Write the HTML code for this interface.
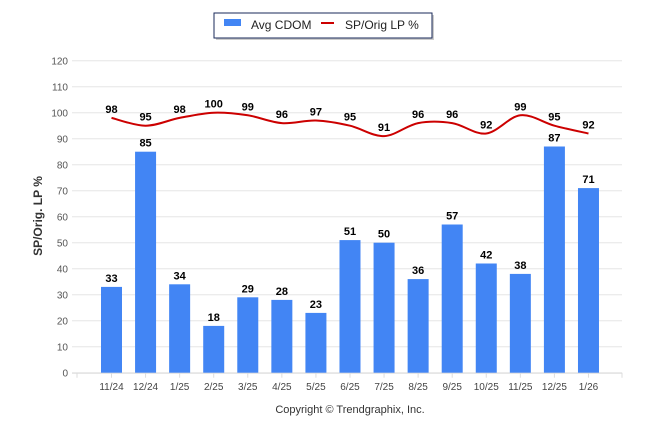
<!DOCTYPE html>
<html><head><meta charset="utf-8"><style>
body{margin:0;background:#fff;font-family:"Liberation Sans",sans-serif}
svg{display:block}
</style></head><body>
<svg id="c" width="646" height="434">
<g id="grid"></g><g id="bars"></g><g id="line"></g><g id="labels"></g>
<g>
<rect x="216" y="15" width="218" height="25" fill="#999" opacity="0.5"/>
<rect x="214" y="13" width="218" height="25" fill="#fff" stroke="#1a2a5a" stroke-width="1"/>
<rect x="224" y="19" width="17" height="7" fill="#4285f4"/>
<text x="251" y="29" font-size="12" fill="#222">Avg CDOM</text>
<line x1="321" y1="23" x2="334" y2="23" stroke="#cc0000" stroke-width="2"/>
<text x="345" y="29" font-size="12" fill="#222">SP/Orig LP %</text>
</g>
<text transform="translate(42,216) rotate(-90)" text-anchor="middle" font-size="12" font-weight="bold" fill="#333">SP/Orig. LP %</text>
<text x="350" y="413" text-anchor="middle" font-size="11" fill="#333">Copyright © Trendgraphix, Inc.</text>
</svg>
<script>
const categories=["11/24","12/24","1/25","2/25","3/25","4/25","5/25","6/25","7/25","8/25","9/25","10/25","11/25","12/25","1/26"];
const cdom=[33,85,34,18,29,28,23,51,50,36,57,42,38,87,71];
const sp=[98,95,98,100,99,96,97,95,91,96,96,92,99,95,92];
const yTicks=[0,10,20,30,40,50,60,70,80,90,100,110,120];
const NS="http://www.w3.org/2000/svg";
const y=v=>372.7-v*2.6;
const x=i=>111.5+i*34.07;
function mk(p,t,a){const e=document.createElementNS(NS,t);for(const k in a)e.setAttribute(k,a[k]);document.getElementById(p).appendChild(e);return e;}
yTicks.forEach(v=>{
 const l=mk('grid','line',{x1:72,x2:622,y1:y(v),y2:y(v),stroke:'#e6e6e6'});
 
 
 const t=mk('grid','text',{x:68,y:y(v)+4,'text-anchor':'end','font-size':10,fill:'#555'});t.textContent=v;
 
 
});
mk('grid','line',{x1:72,x2:622,y1:y(0)+0.5,y2:y(0)+0.5,stroke:'#ddd'});
categories.forEach((c,i)=>{
 mk('grid','line',{x1:x(i),x2:x(i),y1:y(0),y2:y(0)+5,stroke:'#ddd'});
 const t=mk('grid','text',{x:x(i),y:390,'text-anchor':'middle','font-size':10,fill:'#444'});t.textContent=c;
 
 
 const b=mk('bars','rect',{x:x(i)-10.5,y:y(cdom[i]),width:21,height:y(0)-y(cdom[i]),fill:'#4285f4'});
 
 
 const bl=mk('labels','text',{x:x(i),y:y(cdom[i])-5,'text-anchor':'middle','font-size':11,'font-weight':'bold',fill:'#000'});bl.textContent=cdom[i];
 
 
 const ll=mk('labels','text',{x:x(i),y:y(sp[i])-5,'text-anchor':'middle','font-size':11,'font-weight':'bold',fill:'#000'});ll.textContent=sp[i];
 
 
});
mk('grid','line',{x1:77,x2:77,y1:y(0),y2:y(0)+5,stroke:'#ddd'});
mk('grid','line',{x1:622,x2:622,y1:y(0),y2:y(0)+5,stroke:'#ddd'});
const P=sp.map((v,i)=>[x(i),y(v)]);
let d='M'+P[0][0]+','+P[0][1];
const T=1/6;
for(let i=0;i<P.length-1;i++){
 const p0=P[Math.max(i-1,0)],p1=P[i],p2=P[i+1],p3=P[Math.min(i+2,P.length-1)];
 const c1=[p1[0]+(p2[0]-p0[0])*T,p1[1]+(p2[1]-p0[1])*T];
 const c2=[p2[0]-(p3[0]-p1[0])*T,p2[1]-(p3[1]-p1[1])*T];
 d+=` C${c1[0]},${c1[1]} ${c2[0]},${c2[1]} ${p2[0]},${p2[1]}`;
}
const p=mk('line','path',{d:d,fill:'none',stroke:'#cc0000','stroke-width':2});


</script>
</body></html>
